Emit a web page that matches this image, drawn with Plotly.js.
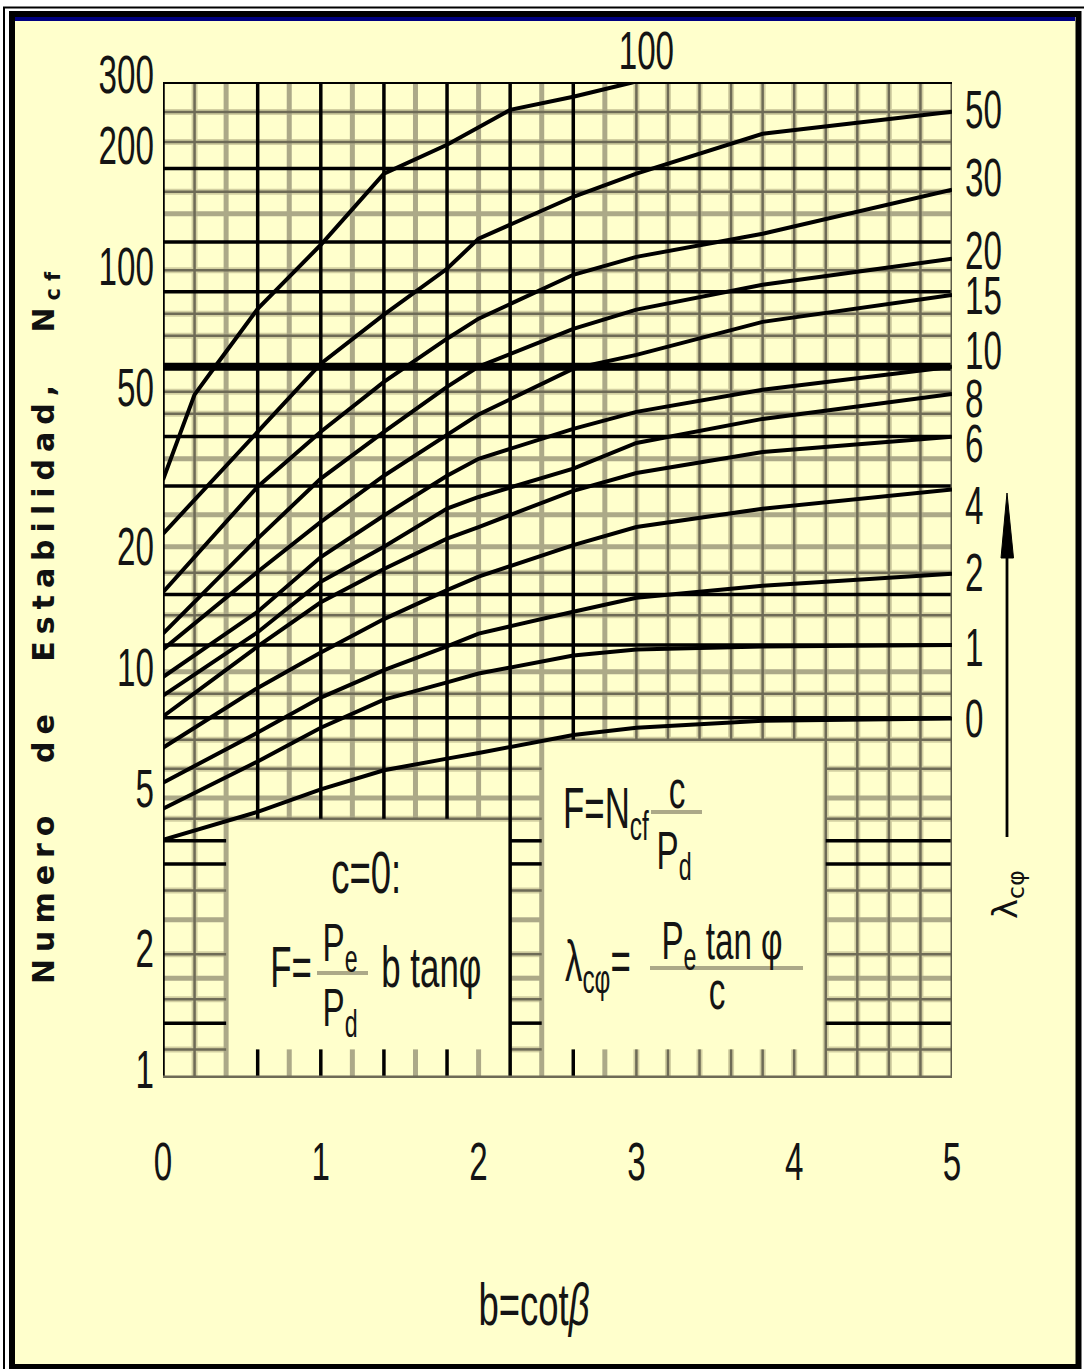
<!DOCTYPE html>
<html><head><meta charset="utf-8">
<script src="https://cdn.plot.ly/plotly-3.0.1.min.js"></script>
<style>html,body{margin:0;padding:0;background:#fff;}#chart{width:1084px;height:1369px;}</style>
</head><body><div id="chart"></div>
<script>
// ---- data ----
const bValues   = [0, 0.6, 1.0, 1.4, 1.8, 2.0, 2.6, 3.0, 3.8, 5.0];
const ncf_l0    = [3.89, 4.57, 5.2, 5.8, 6.2, 6.4, 7.1, 7.4, 7.7, 7.8];
const ncf_l1    = [4.65, 6.1, 7.4, 8.7, 9.6, 10.1, 11.2, 11.6, 11.8, 11.9];
const ncf_l2    = [5.4, 7.2, 8.8, 10.3, 11.8, 12.7, 14.4, 15.6, 16.7, 17.9];
const ncf_l4    = [6.6, 9.3, 11.4, 13.8, 16.3, 17.6, 21.1, 23.4, 26.0, 29.0];
const ncf_l6    = [7.9, 11.8, 15.2, 18.4, 21.9, 23.4, 28.8, 31.9, 36.0, 39.3];
const ncf_l8    = [8.9, 12.8, 17.1, 20.9, 26.0, 27.8, 32.7, 37.9, 43.5, 50.2];
const ncf_l10   = [9.9, 14.4, 19.7, 25.0, 31.4, 34.6, 41.1, 45.3, 51.4, 58.7];
const ncf_l15   = [11.6, 18.1, 24.1, 31.4, 39.7, 44.6, 58.0, 62.8, 75.9, 88.6];
const ncf_l20   = [12.7, 21.9, 30.9, 40.4, 52.3, 58.7, 72.9, 81.4, 93.9, 109.0];
const ncf_l30   = [16.1, 29.5, 40.4, 53.8, 68.9, 77.3, 99.4, 110.2, 125.8, 161.9];
const ncf_l50   = [22.5, 40.4, 59.7, 79.1, 102.9, 122.3, 155.5, 177.5, 223.2, 253.2];
const b_l100    = [0, 0.2, 0.32, 0.6, 1.0, 1.4, 1.8, 2.2, 2.6, 2.98];
const ncf_l100  = [30.7, 50.0, 58.0, 81.8, 118.1, 177.5, 209.6, 256.1, 276, 300];

const lambdaLabels = ['0','1','2','4','6','8','10','15','20','30','50'];
const xTickVals = [0, 1, 2, 3, 4, 5];
const yTickVals = [1, 2, 5, 10, 20, 50, 100, 200, 300];

// grid lines of the chart paper
const xGridBlack = [0.6, 1.0, 1.4, 1.8, 2.2, 2.6];
const xGridLight = [0.4, 0.8, 1.2, 1.6, 2.0, 2.4, 2.8];
const xGridDark  = [0.2, 3.0, 3.2, 3.4, 3.6, 3.8, 4.0, 4.2, 4.4, 4.6, 4.8];
const yGridBlack = [183, 120, 90.2, 39.3, 29.6, 15.9, 11.9, 7.84, 3.87, 3.39, 1.36];
const yGridHeavy = [58.7];
const yGridLight = [141, 34.6, 25.1, 20.9, 10.2, 4.95, 2.46, 1.76];
const yGridDark  = [253, 213, 160, 102, 79.5, 70.1, 50.8, 44.8, 18.0, 14.1, 8.99, 6.91, 5.85, 4.39, 2.91, 2.02, 1.56, 1.17];

// ---- layout geometry ----
const W = 1084, H = 1369, L = 163, R = 952, T = 82, B = 1078;
const pw = R - L, ph = B - T;
const PX = x => (x - L) / pw, PY = y => (B - y) / ph;
const yTopLog = Math.log10(300) + 0.0005;
const yRange = [yTopLog - ph / 401.5, yTopLog];
const Y_BOT = Math.pow(10, yRange[0]), Y_TOP = Math.pow(10, yRange[1]);
const boxes = [{x0: 0.4, x1: 2.2, top: 4.39}, {x0: 2.4, x1: 4.2, top: 6.91}];
const tickTop = 1.17;

const ST = {
  halo:  {color: '#d3d0a2', width: 6},
  dark:  {color: '#6e6b56', width: 2.5},
  light: {color: '#aca988', width: 5},
  black: {color: '#000000', width: 3.5},
  heavy: {color: '#000000', width: 8}
};

function hSegs(v) {
  let segs = [[0, 5]];
  boxes.forEach(bx => {
    if (v < bx.top - 1e-9) {
      const out = [];
      segs.forEach(s => {
        if (bx.x1 <= s[0] || bx.x0 >= s[1]) { out.push(s); return; }
        if (bx.x0 > s[0]) out.push([s[0], bx.x0]);
        if (bx.x1 < s[1]) out.push([bx.x1, s[1]]);
      });
      segs = out;
    }
  });
  return segs;
}
function vSegs(x) {
  for (const bx of boxes) {
    if (x > bx.x0 + 1e-9 && x < bx.x1 - 1e-9) return [[Y_BOT, tickTop], [bx.top, Y_TOP]];
  }
  return [[Y_BOT, Y_TOP]];
}
const shapes = [];
function addH(vals, st) {
  vals.forEach(v => hSegs(v).forEach(s => shapes.push({type: 'line', xref: 'x', yref: 'y', x0: s[0], x1: s[1], y0: v, y1: v, layer: 'below', line: st})));
}
function addV(vals, st) {
  vals.forEach(x => vSegs(x).forEach(s => shapes.push({type: 'line', xref: 'x', yref: 'y', x0: x, x1: x, y0: s[0], y1: s[1], layer: 'below', line: st})));
}

// page background
shapes.push({type: 'rect', xref: 'paper', yref: 'paper', x0: PX(15), x1: PX(1076), y0: PY(20), y1: PY(1365), fillcolor: '#ffffcc', line: {width: 0}, layer: 'below'});
// chart paper grid
addH(yGridDark, ST.halo); addV(xGridDark, ST.halo);
addH(yGridLight, ST.light); addV(xGridLight, ST.light);
addH(yGridDark, ST.dark); addV(xGridDark, ST.dark);
addH(yGridBlack, ST.black); addV(xGridBlack, ST.black);
addH(yGridHeavy, ST.heavy);
// plot borders
shapes.push({type: 'line', xref: 'x', yref: 'y', x0: 0, x1: 0, y0: Y_BOT, y1: Y_TOP, layer: 'below', line: {color: '#000', width: 3.5}});
shapes.push({type: 'line', xref: 'x', yref: 'y', x0: 5, x1: 5, y0: Y_BOT, y1: Y_TOP, layer: 'below', line: {color: '#5e5c4a', width: 3}});
shapes.push({type: 'line', xref: 'x', yref: 'y', x0: 0, x1: 5, y0: Y_TOP, y1: Y_TOP, layer: 'below', line: {color: '#000', width: 4}});
shapes.push({type: 'line', xref: 'x', yref: 'y', x0: 0, x1: 5, y0: Y_BOT, y1: Y_BOT, layer: 'below', line: {color: '#6e6b56', width: 5}});

// page frame lines
shapes.push({type: 'rect', xref: 'paper', yref: 'paper', x0: PX(12), x1: PX(1078.5), y0: PY(14), y1: PY(1367), line: {color: '#000', width: 6}, layer: 'above'});
shapes.push({type: 'rect', xref: 'paper', yref: 'paper', x0: PX(4), x1: PX(1100), y0: PY(7.5), y1: PY(1400), line: {color: '#000', width: 2}, layer: 'above'});
shapes.push({type: 'line', xref: 'paper', yref: 'paper', x0: PX(15), x1: PX(1075), y0: PY(19), y1: PY(19), line: {color: '#000080', width: 4}, layer: 'above'});

// fraction bars in the formula boxes
const barStyle = {color: '#aca988', width: 4};
shapes.push({type: 'line', xref: 'paper', yref: 'paper', x0: PX(317), x1: PX(368), y0: PY(973), y1: PY(973), line: barStyle, layer: 'above'});
shapes.push({type: 'line', xref: 'paper', yref: 'paper', x0: PX(651), x1: PX(702), y0: PY(812), y1: PY(812), line: barStyle, layer: 'above'});
shapes.push({type: 'line', xref: 'paper', yref: 'paper', x0: PX(650), x1: PX(803), y0: PY(968), y1: PY(968), line: barStyle, layer: 'above'});

// arrow for increasing lambda
shapes.push({type: 'line', xref: 'paper', yref: 'paper', x0: PX(1007), x1: PX(1007), y0: PY(837), y1: PY(555), line: {color: '#000', width: 2.8}, layer: 'above'});
shapes.push({type: 'path', xref: 'paper', yref: 'paper',
  path: 'M ' + PX(1001) + ',' + PY(558) + ' L ' + PX(1013.5) + ',' + PY(558) + ' L ' + PX(1007) + ',' + PY(493) + ' Z',
  fillcolor: '#000', line: {color: '#000', width: 1}, layer: 'above'});

// ---- traces ----
const series = [
  [bValues, ncf_l0], [bValues, ncf_l1], [bValues, ncf_l2], [bValues, ncf_l4],
  [bValues, ncf_l6], [bValues, ncf_l8], [bValues, ncf_l10], [bValues, ncf_l15],
  [bValues, ncf_l20], [bValues, ncf_l30], [bValues, ncf_l50], [b_l100, ncf_l100]
];
const seriesNames = lambdaLabels.concat(['100']);
const traces = series.map((s, i) => ({
  type: 'scatter', mode: 'lines', x: s[0], y: s[1], name: 'λ=' + seriesNames[i],
  line: {color: '#000', width: 4}, showlegend: false, hoverinfo: 'skip'
}));

// ---- annotations ----
const SANS = 'Liberation Sans, Arial, sans-serif';
const TXT = '#141414';
const SX = 0.83, SY = 1.36;           // condensed look of the original lettering
const annotations = [], squeeze = [];
function ann(text, xpx, ypx, size, opts, sq) {
  annotations.push(Object.assign({xref: 'paper', yref: 'paper', x: PX(xpx), y: PY(ypx), text: text, showarrow: false,
    xanchor: 'center', yanchor: 'middle', font: {family: SANS, size: size, color: TXT}}, opts || {}));
  squeeze.push(sq === undefined ? {sx: SX, sy: SY, a: (opts && opts.xanchor === 'left') ? 'l' : 'c'} : sq);
}
const lamPos = {'50': 109, '30': 177, '20': 250, '15': 295, '10': 350, '8': 398, '6': 443, '4': 505, '2': 572, '1': 647, '0': 718};
Object.keys(lamPos).forEach(k => ann(k, 963, lamPos[k], 40, {xanchor: 'left'}));
ann('100', 646, 50, 40);
ann('b=cot<i>β</i>', 534, 1303, 44);
ann('Numero de Estabilidad, N<sub>cf</sub>', 45, 624, 30,
  {textangle: -90, font: {family: 'DejaVu Sans, sans-serif', size: 30, color: '#111', weight: 'bold'}}, null);
ann('λ<sub>cφ</sub>', 1008, 895, 34, {textangle: -90, font: {family: 'DejaVu Sans, sans-serif', size: 34, color: '#111'}}, null);
// left formula box
ann('c=0:', 366, 871, 44);
ann('F=', 291, 967, 42);
ann('P<sub>e</sub>', 340, 946, 40);
ann('P<sub>d</sub>', 340, 1011, 40);
ann('b tanφ', 431, 967, 42);
// right formula box
ann('F=N<sub>cf</sub>', 561, 812, 42, {xanchor: 'left'});
ann('c', 677, 789, 40);
ann('P<sub>d</sub>', 674, 854, 40);
ann('λ<sub>cφ</sub>=', 563, 965, 42, {xanchor: 'left'});
ann('P<sub>e</sub> tan φ', 722, 944, 40);
ann('c', 717, 990, 40);

const layout = {
  width: W, height: H,
  margin: {l: L, r: W - R, t: T, b: H - B, pad: 0},
  paper_bgcolor: '#ffffff', plot_bgcolor: 'rgba(0,0,0,0)',
  showlegend: false,
  xaxis: {range: [0, 5], tickvals: xTickVals, ticktext: xTickVals.map(String), showgrid: false, zeroline: false,
    showline: false, ticks: '', ticklabelstandoff: 56, tickfont: {family: SANS, size: 40, color: TXT}, fixedrange: true},
  yaxis: {type: 'log', range: yRange, tickvals: yTickVals, ticktext: yTickVals.map(String), showgrid: false, zeroline: false,
    showline: false, ticks: '', ticklabelstandoff: 8, ticklabelshift: -8, tickfont: {family: SANS, size: 40, color: TXT}, fixedrange: true},
  shapes: shapes,
  annotations: annotations
};

function condense(el, sx, sy, a) {
  const bb = el.getBBox();
  const cx = a === 'l' ? bb.x : (a === 'r' ? bb.x + bb.width : bb.x + bb.width / 2);
  const cy = bb.y + bb.height / 2;
  const t = el.getAttribute('transform') || '';
  el.setAttribute('transform', t + ' translate(' + cx + ',' + cy + ') scale(' + sx + ',' + sy + ') translate(' + (-cx) + ',' + (-cy) + ')');
}

Plotly.newPlot('chart', traces, layout, {staticPlot: true, displayModeBar: false}).then(() => {
  document.querySelectorAll('.xtick text').forEach(t => condense(t, SX, SY, 'c'));
  document.querySelectorAll('.ytick text').forEach(t => condense(t, SX, SY, 'r'));
  document.querySelectorAll('g.annotation').forEach(g => {
    const i = +g.getAttribute('data-index');
    const t = g.querySelector('text.annotation-text');
    if (!t) return;
    const sq = squeeze[i];
    if (sq) condense(t, sq.sx, sq.sy, sq.a);
    if (t.textContent.indexOf('Numero') === 0) {
      t.style.letterSpacing = '7px';
      t.style.wordSpacing = '28px';
    }
  });
});
</script>
</body></html>
